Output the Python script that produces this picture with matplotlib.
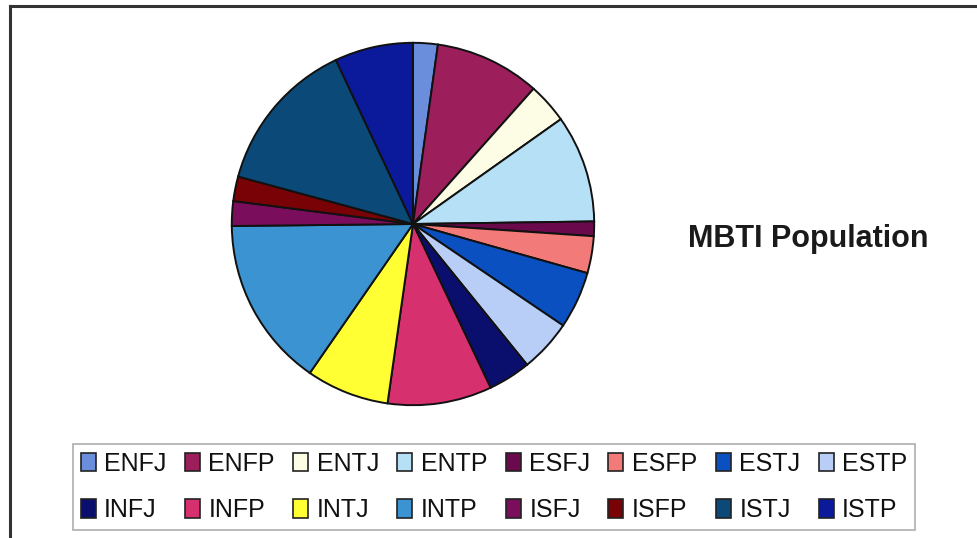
import matplotlib
matplotlib.use("Agg")
import matplotlib.pyplot as plt
from matplotlib.patches import Rectangle
from matplotlib.lines import Line2D

W, H = 977, 538

# MBTI type shares (percent of sample)
types = ["ENFJ", "ENFP", "ENTJ", "ENTP", "ESFJ", "ESFP", "ESTJ", "ESTP",
         "INFJ", "INFP", "INTJ", "INTP", "ISFJ", "ISFP", "ISTJ", "ISTP"]
shares = [2.2, 9.4, 3.6, 9.6, 1.3, 3.3, 5.1, 4.7,
          3.8, 9.3, 7.4, 15.2, 2.2, 2.2, 13.8, 7.0]
colors = ["#6a8ddc", "#9c1f5c", "#fdfde6", "#b6e0f6", "#6a0a4c", "#f27a78",
          "#0b50c0", "#b9cef6", "#0a0f6e", "#d6306f", "#ffff33", "#3b93d2",
          "#7b0e5c", "#780205", "#0b4a78", "#0a1a9a"]
title = "MBTI Population"

plt.rcParams["font.family"] = ["Liberation Sans", "DejaVu Sans"]

fig = plt.figure(figsize=(W / 100, H / 100), dpi=100)
fig.patch.set_facecolor("white")

def px(x, y):
    return x / W, 1 - y / H

# outer chart frame (top and left edges visible)
fig.add_artist(Line2D([10 / W, 1.01], [1 - 6 / H, 1 - 6 / H],
                      transform=fig.transFigure, color="#333333", lw=2.2))
fig.add_artist(Line2D([10 / W, 10 / W], [-0.01, 1 - 6 / H],
                      transform=fig.transFigure, color="#333333", lw=2.2))

# pie axes
cx, cy, r = 413, 224, 183
ax = fig.add_axes([(cx - r) / W, (H - cy - r) / H, 2 * r / W, 2 * r / H])
ax.pie(shares, colors=colors, startangle=90, counterclock=False, radius=1,
       wedgeprops=dict(edgecolor="#111111", linewidth=1.4))
ax.set_xlim(-1.01, 1.01)
ax.set_ylim(-1.01, 1.01)
ax.set_aspect("equal")
ax.axis("off")

# title on the right
tx, ty = px(808, 247)
fig.text(tx, ty, title, ha="center", va="baseline", fontsize=22,
         fontweight="bold", color="#1a1a1a")

# legend: fill row by row (matplotlib fills column by column)
ncol = 8
nrow = 2
order = [row * ncol + col for col in range(ncol) for row in range(nrow)]
handles = [Rectangle((0, 0), 1, 1, facecolor=colors[i], edgecolor="#222222",
                     lw=1.2) for i in order]
labels = [types[i] for i in order]
lx0, ly1 = px(73, 443)
lx1, ly0 = px(915, 531)
leg = fig.legend(handles, labels, ncol=ncol, loc="center",
                 bbox_to_anchor=(lx0, ly0, lx1 - lx0, ly1 - ly0),
                 mode="expand", fontsize=18, frameon=True, fancybox=False,
                 handlelength=0.6, handleheight=0.75, handletextpad=0.35,
                 columnspacing=0.4, labelspacing=0.9, borderpad=0.3,
                 borderaxespad=0)
leg.get_frame().set_edgecolor("#999999")
leg.get_frame().set_linewidth(1.2)
for t in leg.get_texts():
    t.set_color("#111111")

fig.savefig("out.png", dpi=100, facecolor="white")
